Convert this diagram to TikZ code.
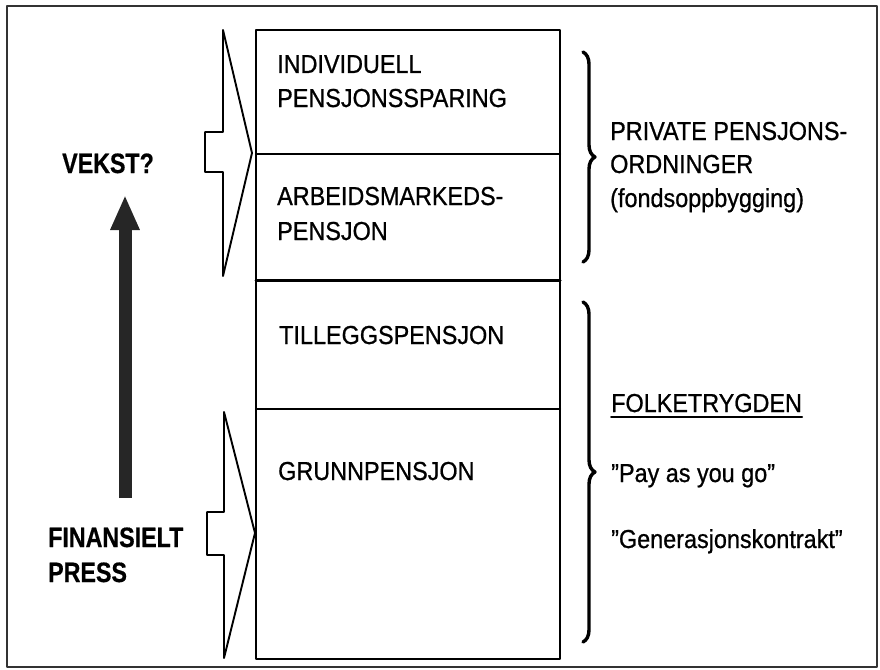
\documentclass[tikz,border=0pt]{standalone}
\usepackage{fontspec}
\setmainfont{Liberation Sans}
\newfontfamily\heavy{Liberation Sans}[FakeBold=0.8]
\newfontfamily\heavyb{Liberation Sans Bold}[FakeBold=0.6]
\usetikzlibrary{arrows.meta,decorations.pathreplacing}

% the lettering is a narrow grotesque
\newcommand{\tight}[1]{\scalebox{0.9}[1]{#1}}
\newcommand{\tightb}[1]{\scalebox{0.83}[1]{#1}}

\tikzset{
  boxtxt/.style={anchor=base west, inner sep=0pt, font=\fontsize{26}{30}\heavy},
  boldtxt/.style={anchor=base west, inner sep=0pt, font=\fontsize{28}{32}\heavyb},
  boxline/.style={line width=2.2pt},
  inflow/.style={line width=1.9pt},
  bracket/.style={decorate, decoration={brace, amplitude=12pt}, line width=3.4pt},
  growth/.style={line width=13pt, line cap=butt, color=black!85, -{Triangle[length=35pt,width=27pt]}},
}

\begin{document}
\begin{tikzpicture}[x=1pt,y=-1pt,line cap=round,line join=round]
	\useasboundingbox (0,0) rectangle (880,669);
	\draw [line width=2.8pt,color=black!80] (7,6) rectangle (877,667);

	% the two pillars
	\draw [boxline] (256,30) rectangle (560,280);
	\draw [boxline] (256,154) -- (560,154);
	\draw [boxline] (256,280) rectangle (560,659);
	\draw [boxline] (256,409) -- (560,409);
	\draw [line width=3pt] (256,280) -- (560,280);

	% open arrows pushing into the pillars
	\draw [inflow] (223,30) -- (252,153) -- (223,276) -- (223,172) -- (205,172) -- (205,132) -- (223,132) -- cycle;
	\draw [inflow] (224,412) -- (255,533) -- (224,658) -- (224,555) -- (207,555) -- (207,512) -- (224,512) -- cycle;

	\node [boxtxt] (indiv) at (277,73) {\tight{INDIVIDUELL}};
	\node [boxtxt] (sparing) at (277,107) {\tight{PENSJONSSPARING}};
	\node [boxtxt] (arbeid) at (277,205) {\tight{ARBEIDSMARKEDS-}};
	\node [boxtxt] (arbpen) at (277,240) {\tight{PENSJON}};
	\node [boxtxt] (tillegg) at (279,344) {\tight{TILLEGGSPENSJON}};
	\node [boxtxt] (grunn) at (278,480) {\tight{GRUNNPENSJON}};

	% left side
	\node [boldtxt] (vekst) at (62,173) {\tightb{VEKST?}};
	\node [boldtxt] (finans) at (48,547) {\tightb{FINANSIELT}};
	\node [boldtxt] (press) at (48,582) {\tightb{PRESS}};
	\coordinate (lo) at (125,498);
	\coordinate (hi) at (125,195);
	\draw [growth] (lo) -- (hi);

	% right side
	\draw [bracket] (583,52) -- (583,262);
	\draw [bracket] (583,302) -- (583,642);

	\node [boxtxt] (privat) at (610,140) {\tight{PRIVATE PENSJONS-}};
	\node [boxtxt] (ordning) at (610,173) {\tight{ORDNINGER}};
	\node [boxtxt] (fond) at (610,207) {\tight{(fondsoppbygging)}};
	\node [boxtxt] (folke) at (611,412) {\tight{FOLKETRYGDEN}};
	\draw [line width=1.8pt] ([yshift=-5pt]folke.base west) -- ([yshift=-5pt]folke.base east);
	\node [boxtxt] (payg) at (611,482) {\tight{”Pay as you go”}};
	\node [boxtxt] (gen) at (611,548) {\tight{”Generasjonskontrakt”}};
\end{tikzpicture}
\end{document}
